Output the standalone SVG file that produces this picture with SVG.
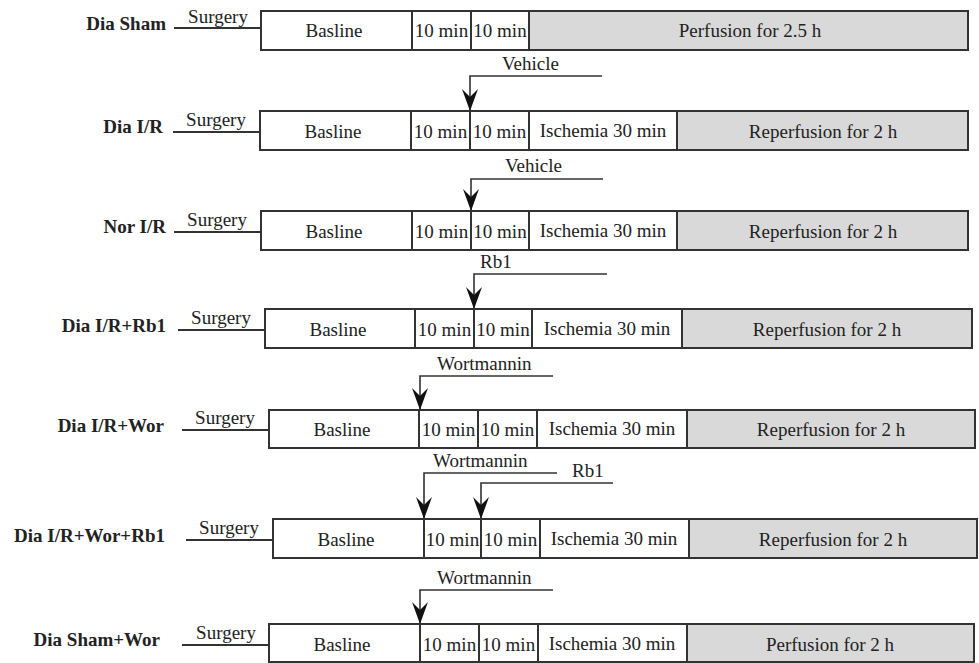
<svg xmlns="http://www.w3.org/2000/svg" width="979" height="663" viewBox="0 0 979 663" font-family="'Liberation Serif', 'DejaVu Serif', 'Times New Roman', serif">
<style>
text{font-family:'Liberation Serif','DejaVu Serif','Times New Roman',serif;font-size:19px;fill:#222}
.lbl{font-weight:bold;text-anchor:end}
.c{text-anchor:middle}
.box{fill:#fff;stroke:#333;stroke-width:2}
.gray{fill:#d9d9d9;stroke:#333;stroke-width:2}
.div{stroke:#333;stroke-width:2}
.surg{stroke:#333;stroke-width:2}
.con{fill:none;stroke:#333;stroke-width:1.6}
</style>
<defs>
<marker id="ah" markerUnits="userSpaceOnUse" viewBox="-23 -9 24 18" refX="0" refY="0" markerWidth="24" markerHeight="18" orient="auto">
<path d="M0,0 L-22,-8 L-14,0 L-22,8 Z" fill="#111"/>
</marker>
</defs>

<g id="row1">
<text class="lbl" x="166" y="30">Dia Sham</text>
<line class="surg" x1="174" y1="28" x2="261" y2="28"/>
<text class="c" x="218" y="23">Surgery</text>
<rect class="box" x="261" y="11" width="707" height="39"/>
<rect class="gray" x="529" y="11" width="439" height="39"/>
<line class="div" x1="412" y1="11" x2="412" y2="50"/>
<line class="div" x1="471" y1="11" x2="471" y2="50"/>
<text class="c" x="334" y="37">Basline</text>
<text class="c" x="441.5" y="37">10 min</text>
<text class="c" x="500" y="37">10 min</text>
<text class="c" x="750" y="37">Perfusion for 2.5 h</text>
</g>

<g id="row2">
<text class="lbl" x="163" y="133">Dia I/R</text>
<line class="surg" x1="173" y1="132" x2="260" y2="132"/>
<text class="c" x="216" y="126">Surgery</text>
<rect class="box" x="260" y="111" width="708" height="39"/>
<rect class="gray" x="677" y="111" width="291" height="39"/>
<line class="div" x1="411" y1="111" x2="411" y2="150"/>
<line class="div" x1="470" y1="111" x2="470" y2="150"/>
<line class="div" x1="529" y1="111" x2="529" y2="150"/>
<text class="c" x="333" y="138">Basline</text>
<text class="c" x="440.5" y="138">10 min</text>
<text class="c" x="499.5" y="138">10 min</text>
<text class="c" x="603" y="137">Ischemia 30 min</text>
<text class="c" x="823" y="138">Reperfusion for 2 h</text>
</g>

<g id="row3">
<text class="lbl" x="166" y="233">Nor I/R</text>
<line class="surg" x1="174" y1="232" x2="261" y2="232"/>
<text class="c" x="217" y="226">Surgery</text>
<rect class="box" x="261" y="211" width="707" height="39"/>
<rect class="gray" x="677" y="211" width="291" height="39"/>
<line class="div" x1="412" y1="211" x2="412" y2="250"/>
<line class="div" x1="471" y1="211" x2="471" y2="250"/>
<line class="div" x1="529" y1="211" x2="529" y2="250"/>
<text class="c" x="334" y="238">Basline</text>
<text class="c" x="441.5" y="238">10 min</text>
<text class="c" x="500" y="238">10 min</text>
<text class="c" x="603" y="237">Ischemia 30 min</text>
<text class="c" x="823" y="238">Reperfusion for 2 h</text>
</g>

<g id="row4">
<text class="lbl" x="166" y="332">Dia I/R+Rb1</text>
<line class="surg" x1="178" y1="330" x2="265" y2="330"/>
<text class="c" x="221" y="324">Surgery</text>
<rect class="box" x="265" y="309" width="707" height="39"/>
<rect class="gray" x="682" y="309" width="290" height="39"/>
<line class="div" x1="415" y1="309" x2="415" y2="348"/>
<line class="div" x1="474" y1="309" x2="474" y2="348"/>
<line class="div" x1="532" y1="309" x2="532" y2="348"/>
<text class="c" x="338" y="336">Basline</text>
<text class="c" x="444.5" y="336">10 min</text>
<text class="c" x="503" y="336">10 min</text>
<text class="c" x="607" y="335">Ischemia 30 min</text>
<text class="c" x="827" y="336">Reperfusion for 2 h</text>
</g>

<g id="row5">
<text class="lbl" x="164" y="432">Dia I/R+Wor</text>
<line class="surg" x1="182" y1="430" x2="269" y2="430"/>
<text class="c" x="225" y="424">Surgery</text>
<rect class="box" x="269" y="410" width="706" height="38"/>
<rect class="gray" x="687" y="410" width="288" height="38"/>
<line class="div" x1="419" y1="410" x2="419" y2="448"/>
<line class="div" x1="478" y1="410" x2="478" y2="448"/>
<line class="div" x1="537" y1="410" x2="537" y2="448"/>
<text class="c" x="342" y="436">Basline</text>
<text class="c" x="448.5" y="436">10 min</text>
<text class="c" x="507.5" y="436">10 min</text>
<text class="c" x="612" y="435">Ischemia 30 min</text>
<text class="c" x="831" y="436">Reperfusion for 2 h</text>
</g>

<g id="row6">
<text class="lbl" x="165" y="542">Dia I/R+Wor+Rb1</text>
<line class="surg" x1="186" y1="540" x2="273" y2="540"/>
<text class="c" x="229" y="534">Surgery</text>
<rect class="box" x="273" y="519" width="704" height="39"/>
<rect class="gray" x="689" y="519" width="288" height="39"/>
<line class="div" x1="424" y1="519" x2="424" y2="558"/>
<line class="div" x1="481" y1="519" x2="481" y2="558"/>
<line class="div" x1="540" y1="519" x2="540" y2="558"/>
<text class="c" x="346" y="546">Basline</text>
<text class="c" x="452.5" y="546">10 min</text>
<text class="c" x="510.5" y="546">10 min</text>
<text class="c" x="614" y="545">Ischemia 30 min</text>
<text class="c" x="833" y="546">Reperfusion for 2 h</text>
</g>

<g id="row7">
<text class="lbl" x="160" y="646">Dia Sham+Wor</text>
<line class="surg" x1="182" y1="645" x2="269" y2="645"/>
<text class="c" x="226" y="639">Surgery</text>
<rect class="box" x="269" y="624" width="705" height="38"/>
<rect class="gray" x="687" y="624" width="287" height="38"/>
<line class="div" x1="420" y1="624" x2="420" y2="662"/>
<line class="div" x1="479" y1="624" x2="479" y2="662"/>
<line class="div" x1="538" y1="624" x2="538" y2="662"/>
<text class="c" x="342" y="651">Basline</text>
<text class="c" x="449.5" y="651">10 min</text>
<text class="c" x="508.5" y="651">10 min</text>
<text class="c" x="612" y="650">Ischemia 30 min</text>
<text class="c" x="830" y="651">Perfusion for 2 h</text>
</g>

<g id="drug-labels">
<text x="502" y="70">Vehicle</text>
<text x="505" y="172">Vehicle</text>
<text x="480" y="268">Rb1</text>
<text x="437" y="370">Wortmannin</text>
<text x="433" y="467">Wortmannin</text>
<text x="572" y="477">Rb1</text>
<text x="437" y="584">Wortmannin</text>
</g>

<g id="connectors">
<path class="con" d="M602,76 H470 V111" marker-end="url(#ah)"/>
<path class="con" d="M603,179 H471 V211" marker-end="url(#ah)"/>
<path class="con" d="M607,274 H474 V309" marker-end="url(#ah)"/>
<path class="con" d="M553,376 H420 V410" marker-end="url(#ah)"/>
<path class="con" d="M557,473 H424 V519" marker-end="url(#ah)"/>
<path class="con" d="M613,483 H481 V519" marker-end="url(#ah)"/>
<path class="con" d="M553,590 H420 V624" marker-end="url(#ah)"/>
</g>
</svg>
